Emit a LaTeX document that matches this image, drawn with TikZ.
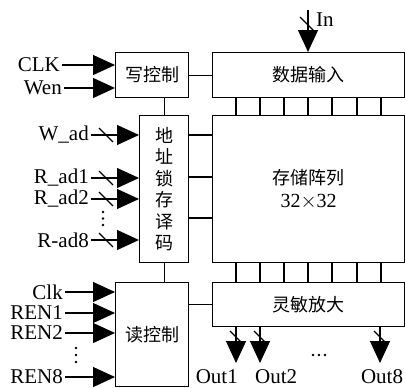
\documentclass[tikz,border=0pt]{standalone}
\usepackage{fontspec}
\setmainfont{Liberation Serif}
\newfontfamily\cjk{Noto Sans CJK SC}
\usetikzlibrary{arrows.meta,calc}

\tikzset{
  blk/.style={draw, line width=1.2pt, inner sep=0pt, anchor=north west, font=\cjk\fontsize{18}{21.5}\selectfont, align=center},
  wire/.style={line width=1.2pt},
  inarrow/.style={line width=1.2pt, -{Triangle[length=22pt,width=20pt]}},
  lbl/.style={inner sep=2pt, font=\fontsize{21}{23}\selectfont},
}
% bus slash mark
\newcommand{\busmark}[2]{\draw[wire] (#1-7,#2-7) -- (#1+7,#2+7);}
% three dots, (x,y) of the middle one and step
\newcommand{\threedots}[4]{\foreach \k in {-1,0,1} \fill (#1+\k*#3,#2+\k*#4) circle (1.3pt);}

\begin{document}
\begin{tikzpicture}[x=1pt, y=-1pt]
  \useasboundingbox (0,0) rectangle (405,388);

  % blocks
  \node[blk, minimum width=73pt, minimum height=45pt] (wctrl) at (115,52) {写控制};
  \node[blk, minimum width=49pt, minimum height=147pt] (addr) at (139,115) {地\\址\\锁\\存\\译\\码};
  \node[blk, minimum width=73pt, minimum height=104pt] (rctrl) at (115,282) {读控制};
  \node[blk, minimum width=192pt, minimum height=45pt] (din) at (212,52) {数据输入};
  \node[blk, minimum width=192pt, minimum height=147pt] (arr) at (212,115) {存储阵列\\[2pt]{\rmfamily\fontsize{20}{22}\selectfont 32$\times$32}};
  \node[blk, minimum width=192pt, minimum height=44pt] (amp) at (212,282) {灵敏放大};

  % links between blocks
  \draw[wire] (wctrl.east) -- (din.west);
  \draw[wire] (addr.north) -- (addr.north |- wctrl.south);
  \draw[wire] (addr.south) -- (addr.south |- rctrl.north);
  \foreach \y in {135,177,218}
    \draw[wire] (addr.east |- 0,\y) -- (arr.west |- 0,\y);
  \draw[wire] (amp.west) -- (amp.west -| rctrl.east);
  \foreach \x in {236,260,284,308,332,357,381} {
    \draw[wire] (din.south -| \x,0) -- (arr.north -| \x,0);
    \draw[wire] (arr.south -| \x,0) -- (amp.north -| \x,0);
  }

  % write control inputs
  \node[lbl, anchor=east] (clkw) at (62,65) {CLK};
  \node[lbl, anchor=east] (wen) at (64,88) {Wen};
  \draw[inarrow] (clkw.east) -- (clkw.east -| wctrl.west);
  \draw[inarrow] (wen.east) -- (wen.east -| wctrl.west);

  % address inputs
  \node[lbl, anchor=east] (wad) at (91,135) {W\_ad};
  \node[lbl, anchor=east] (rad1) at (91,178) {R\_ad1};
  \node[lbl, anchor=east] (rad2) at (91,199) {R\_ad2};
  \node[lbl, anchor=east] (rad8) at (91,240) {R-ad8};
  \threedots{103}{218.5}{0}{6.5}
  \foreach \n/\y in {wad/135,rad1/178,rad2/199,rad8/240} {
    \draw[inarrow] (\n.east) -- (\n.east -| addr.west);
    \busmark{106}{\y}
  }

  % read control inputs
  \node[lbl, anchor=east] (clkr) at (65,292) {Clk};
  \node[lbl, anchor=east] (ren1) at (65,313) {REN1};
  \node[lbl, anchor=east] (ren2) at (65,333) {REN2};
  \node[lbl, anchor=east] (ren8) at (65,377) {REN8};
  \threedots{76}{355}{0}{7}
  \foreach \n in {clkr,ren1,ren2,ren8}
    \draw[inarrow] (\n.east) -- (\n.east -| rctrl.west);

  % data in
  \coordinate (intop) at (308,10);
  \draw[inarrow] (intop) -- (din.north -| intop);
  \busmark{307}{24}
  \node[lbl, anchor=west] (inlbl) at (314,20) {In};

  % data out
  \coordinate (o1) at (236,363);
  \coordinate (o2) at (260,363);
  \coordinate (o8) at (380,363);
  \foreach \o in {o1,o2,o8}
    \draw[inarrow] (amp.south -| \o) -- (\o);
  \busmark{237}{338}
  \busmark{261}{338}
  \busmark{381}{338}
  \threedots{319}{355}{6}{0}
  \node[lbl, inner sep=0pt, anchor=base east] (out1) at (238,383) {Out1};
  \node[lbl, inner sep=0pt, anchor=base west] (out2) at (255,383) {Out2};
  \node[lbl, inner sep=0pt, anchor=base] (out8) at (382,383) {Out8};
\end{tikzpicture}
\end{document}
